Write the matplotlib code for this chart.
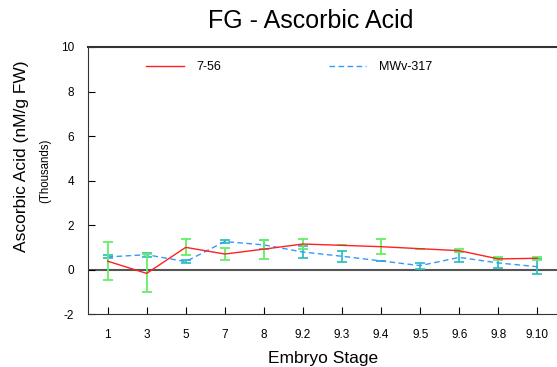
import matplotlib.pyplot as plt
import numpy as np

plt.rcParams['font.family'] = ['Liberation Sans', 'DejaVu Sans']
plt.rcParams['axes.unicode_minus'] = False

# Data (thousands of nM/g FW)
stages = ["1", "3", "5", "7", "8", "9.2", "9.3", "9.4", "9.5", "9.6", "9.8", "9.10"]
line_756 = [0.38, -0.17, 1.0, 0.70, 0.92, 1.15, 1.09, 1.03, 0.94, 0.85, 0.48, 0.51]
err_756 = [0.85, 0.85, 0.36, 0.25, 0.43, 0.22, 0.0, 0.35, 0.0, 0.07, 0.07, 0.07]
mwv_317 = [0.57, 0.67, 0.36, 1.26, 1.11, 0.79, 0.60, 0.39, 0.18, 0.55, 0.30, 0.13]
err_317 = [0.07, 0.09, 0.06, 0.06, 0.20, 0.28, 0.24, 0.0, 0.13, 0.22, 0.21, 0.33]

x = np.arange(len(stages))

fig = plt.figure(figsize=(5.57, 3.67), dpi=100)
ax = fig.add_axes([0.158, 0.144, 0.842, 0.728])

ax.axhline(0, color='#555555', lw=1.5, zorder=1)

ax.errorbar(x, line_756, yerr=err_756, color='#ff2020', lw=1.0, ecolor='#66ee66',
            elinewidth=1.3, capsize=3.5, capthick=1.3, label='7-56', zorder=3)
ax.errorbar(x, mwv_317, yerr=err_317, color='#3399ff', lw=1.0, ls=(0, (4, 2.5)),
            ecolor='#33c0c0', elinewidth=1.3, capsize=3.5, capthick=1.3,
            label='MWv-317', zorder=2)

ax.set_xlim(-0.5, len(stages) - 0.5)
ax.set_ylim(-2, 10)
ax.set_yticks([-2, 0, 2, 4, 6, 8, 10])
ax.set_xticks(x)
ax.set_xticklabels(stages)
ax.tick_params(direction='in', length=5, labelsize=8.5, pad=11)
ax.tick_params(axis='y', pad=10)
ax.spines['right'].set_visible(False)
for s in ['left', 'bottom', 'top']:
    ax.spines[s].set_color('#333333')
ax.spines['top'].set_linewidth(1.5)

fig.text(311 / 557, 1 - 21 / 367, 'FG - Ascorbic Acid', fontsize=18, ha='center', va='center')
fig.text(323 / 557, 1 - 358 / 367, 'Embryo Stage', fontsize=12.5, ha='center', va='center')
fig.text(22 / 557, 1 - 156 / 367, 'Ascorbic Acid (nM/g FW)', rotation=90, fontsize=12.5,
         ha='center', va='center')
fig.text(45 / 557, 1 - 171 / 367, '(Thousands)', rotation=90, fontsize=8.3,
         ha='center', va='center')

handles, labels = ax.get_legend_handles_labels()
handles = [h[0] for h in handles]
ax.legend(handles, labels, loc='upper left', bbox_to_anchor=(0.1, 0.99), ncol=2,
          frameon=False, fontsize=9, handlelength=3.0, handletextpad=1.0,
          columnspacing=8.6)

plt.savefig('out.png')
plt.close()
